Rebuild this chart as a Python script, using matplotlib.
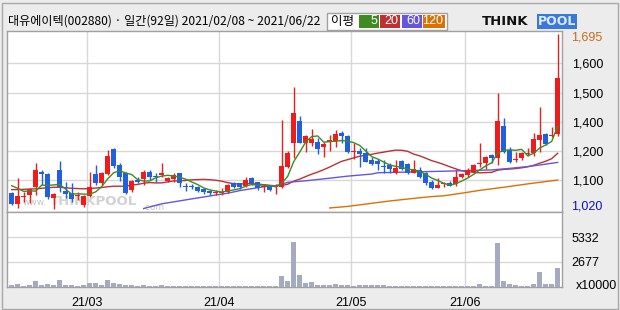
import numpy as np
import pandas as pd
import matplotlib
matplotlib.use("Agg")
import matplotlib.pyplot as plt
from matplotlib.patches import Rectangle

W, H = 620, 310

# ---------------- data ----------------
title_text = "대유에이텍(002880) · 일간(92일) 2021/02/08 ~ 2021/06/22"
start_date, end_date = "2021-02-08", "2021-06-22"
holidays = ["2021-02-11", "2021-02-12", "2021-03-01", "2021-05-05", "2021-05-19"]

opens = [1083, 1038, 1068, 1074, 1106, 1164, 1155, 1061, 1171, 1091,
         1081, 1072, 1035, 1070, 1155, 1122, 1157, 1252, 1190, 1158,
         1093, 1132, 1135, 1164, 1145, 1151, 1128, 1136, 1158, 1107,
         1109, 1106, 1096, 1091, 1081, 1083, 1087, 1119, 1119, 1110,
         1140, 1123, 1106, 1109, 1104, 1106, 1183, 1276, 1360, 1274,
         1276, 1280, 1258, 1278, 1284, 1315, 1302, 1240, 1244, 1238,
         1209, 1207, 1187, 1190, 1158, 1205, 1194, 1160, 1171, 1160,
         1125, 1102, 1115, 1119, 1117, 1143, 1151, 1164, 1192, 1197,
         1229, 1218, 1341, 1248, 1211, 1216, 1233, 1238, 1287, 1310,
         1301, 1310]
highs = [1087, 1139, 1087, 1100, 1197, 1171, 1158, 1082, 1205, 1125,
         1120, 1087, 1074, 1163, 1190, 1164, 1248, 1257, 1197, 1164,
         1132, 1145, 1171, 1171, 1160, 1197, 1145, 1158, 1160, 1119,
         1117, 1110, 1102, 1093, 1093, 1100, 1115, 1124, 1122, 1144,
         1145, 1126, 1117, 1113, 1117, 1364, 1244, 1493, 1379, 1306,
         1329, 1293, 1280, 1306, 1325, 1321, 1306, 1274, 1257, 1255,
         1222, 1212, 1209, 1197, 1209, 1209, 1197, 1209, 1183, 1164,
         1132, 1139, 1125, 1129, 1171, 1160, 1180, 1192, 1276, 1226,
         1233, 1469, 1370, 1261, 1241, 1241, 1255, 1315, 1413, 1315,
         1336, 1695]
lows = [1035, 1025, 1048, 1044, 1074, 1113, 1057, 1020, 1087, 1061,
        1048, 1055, 1026, 1068, 1113, 1113, 1151, 1177, 1129, 1078,
        1087, 1119, 1113, 1132, 1125, 1145, 1123, 1125, 1106, 1091,
        1096, 1087, 1078, 1074, 1074, 1074, 1083, 1101, 1098, 1105,
        1113, 1093, 1087, 1089, 1078, 1100, 1177, 1216, 1275, 1241,
        1263, 1233, 1222, 1245, 1261, 1276, 1235, 1212, 1183, 1200,
        1190, 1171, 1160, 1158, 1155, 1171, 1155, 1158, 1141, 1113,
        1096, 1100, 1106, 1107, 1110, 1140, 1145, 1161, 1181, 1173,
        1199, 1190, 1238, 1197, 1203, 1209, 1225, 1225, 1241, 1268,
        1297, 1302]
closes = [1039, 1070, 1070, 1096, 1171, 1155, 1065, 1078, 1106, 1078,
          1059, 1074, 1070, 1106, 1122, 1160, 1225, 1188, 1143, 1081,
          1129, 1125, 1164, 1143, 1143, 1160, 1141, 1151, 1119, 1105,
          1106, 1091, 1086, 1081, 1083, 1086, 1113, 1106, 1104, 1131,
          1120, 1100, 1108, 1093, 1106, 1186, 1238, 1392, 1276, 1302,
          1290, 1252, 1271, 1287, 1309, 1303, 1241, 1242, 1233, 1203,
          1194, 1194, 1184, 1175, 1177, 1175, 1158, 1173, 1145, 1119,
          1102, 1113, 1117, 1110, 1145, 1155, 1171, 1190, 1194, 1222,
          1216, 1361, 1241, 1203, 1213, 1235, 1235, 1290, 1306, 1271,
          1303, 1527]
# volume in units of 10,000 shares
volumes = [248, 320, 106, 212, 637, 212, 320, 212, 743, 212,
           212, 106, 212, 425, 425, 212, 743, 425, 320, 212,
           212, 106, 212, 106, 106, 212, 106, 100, 100, 106,
           100, 100, 106, 100, 100, 100, 100, 106, 100, 100,
           100, 100, 100, 100, 106, 1168, 637, 4815, 1274, 425,
           531, 212, 212, 212, 320, 212, 212, 106, 212, 212,
           212, 212, 212, 106, 100, 100, 100, 100, 100, 100,
           100, 100, 100, 100, 100, 100, 100, 100, 320, 106,
           106, 4708, 637, 320, 212, 106, 106, 320, 1593, 320,
           320, 2018]

ma5_head = [1110, 1100, 1088, 1090]
ma20_head = [1095, 1095, 1096, 1097, 1098, 1100, 1102, 1104, 1104, 1102,
             1100, 1099, 1098, 1099, 1101, 1103, 1106, 1108, 1108]
ma60_idx = [22, 25, 30, 34, 36, 38, 42, 44, 46, 49, 53, 56, 60, 61, 72, 80, 83, 86, 88, 91]
ma60_val = [1022, 1040, 1059, 1074, 1081, 1091, 1106, 1110, 1123, 1129,
            1139, 1147, 1155, 1160, 1166, 1171, 1177, 1184, 1190, 1200]
ma120_idx = [53, 56, 60, 63, 67, 70, 72, 75, 78, 82, 86, 91]
ma120_val = [1024, 1030, 1042, 1051, 1061, 1068, 1071, 1081, 1092, 1104, 1117, 1132]

price_hi, price_lo = 1695, 1020
vol_tick_vals = [2677, 5332]
vol_top = 7998

# ---------------- styling ----------------
BG = "#ECECEC"
GRID = "#D8D8D8"
FRAME = "#A0A0A0"
UP = "#F01C1C"
DOWN = "#1F5FE0"
C5, C20, C60, C120 = "#3C8C22", "#C03030", "#6655DD", "#DD7000"
VOLC = "#A3AAC2"
NUMFONT = ["Liberation Sans", "DejaVu Sans"]
KFONT = ["Noto Sans CJK KR", "DejaVu Sans"]
NUMSIZE = 9

dates = pd.bdate_range(start_date, end_date)
dates = dates[~dates.isin(pd.to_datetime(holidays))]
n = len(closes)
idx = np.arange(n)
o = np.array(opens, float); c = np.array(closes, float)
hi = np.array(highs, float); lo = np.array(lows, float)

cl = pd.Series(c)
ma5 = cl.rolling(5).mean().to_numpy()
ma5[:len(ma5_head)] = ma5_head
ma20 = cl.rolling(20).mean().to_numpy()
ma20[:len(ma20_head)] = ma20_head

fig = plt.figure(figsize=(W / 100, H / 100), dpi=100, facecolor=BG)

def fx(x):
    return x / W

def fy(y):
    return 1 - y / H

left_px, right_px = 7, 562
top_px, mid_px, bot_px = 31, 212, 287
axp = fig.add_axes([fx(left_px), fy(mid_px), (right_px - left_px) / W, (mid_px - top_px) / H])
axv = fig.add_axes([fx(left_px), fy(bot_px), (right_px - left_px) / W, (bot_px - mid_px) / H], sharex=axp)

# x scale: candle i at pixel 11.7 + 6 i
px_per = 6.0
x0 = (left_px - 11.7) / px_per
x1 = (right_px - 11.7) / px_per
axp.set_xlim(x0, x1)

# y scale: 1695 at y=34.3 px, 1020 at y=209 px
ppu = (209 - 34.3) / (price_hi - price_lo)
ytop = price_hi + (34.3 - top_px) / ppu
ybot = price_lo - (mid_px - 209) / ppu
axp.set_ylim(ybot, ytop)

# month boundaries
month_first = [i for i in range(1, n) if dates[i].month != dates[i - 1].month]
month_pos = [i - 0.5 for i in month_first]
month_lab = [dates[i].strftime("%y/%m") for i in month_first]

grid_vals = [price_lo + (price_hi - price_lo) * k / 6 for k in range(1, 6)]
grid_labs = [f"{int(round(v, -2)):,}" for v in grid_vals]

for ax in (axp, axv):
    ax.set_facecolor("white")
    for s in ax.spines.values():
        s.set_color(FRAME)
        s.set_linewidth(1)
    for m in month_pos:
        ax.axvline(m, color=GRID, lw=1, zorder=0)
    ax.tick_params(length=0)

for g in grid_vals:
    axp.axhline(g, color=GRID, lw=1, zorder=0)

# watermark (behind the candles)
axp.text(16 / 555, 0.03, "www.", transform=axp.transAxes, fontsize=6.5, family=["DejaVu Sans"],
         color="#C4C4C4", ha="left", va="bottom", zorder=1)
axp.text(43 / 555, 0.02, "THINKPOOL", transform=axp.transAxes, fontsize=9.5,
         family=["DejaVu Sans"], weight="bold", color="#D2D2D2", ha="left", va="bottom", zorder=1)
axp.text(135 / 555, 0.0, ".com", transform=axp.transAxes, fontsize=6.5, family=["DejaVu Sans"],
         color="#C4C4C4", ha="left", va="bottom", zorder=1)

# candles
up = c >= o
colors = np.where(up, UP, DOWN)
axp.vlines(idx, lo, hi, colors=colors, lw=1, zorder=3)
body_min = 1.0 / ppu
bottoms = np.minimum(o, c)
heights = np.maximum(np.abs(c - o), body_min)
axp.bar(idx, heights, bottom=bottoms, width=0.83, color=colors, edgecolor=colors,
        linewidth=0, zorder=4)

# moving averages
axp.plot(idx, ma20, color=C20, lw=1, zorder=2)
axp.plot(ma60_idx, ma60_val, color=C60, lw=1, zorder=2)
axp.plot(ma120_idx, ma120_val, color=C120, lw=1, zorder=2)
axp.plot(idx, ma5, color=C5, lw=1, zorder=5)

axp.yaxis.tick_right()
axp.set_yticks(grid_vals)
axp.set_yticklabels(grid_labs, fontsize=NUMSIZE, family=NUMFONT)
axp.tick_params(axis="y", pad=7)
axp.tick_params(axis="x", labelbottom=False)

fig.text(fx(571), fy(38), f"{price_hi:,}", color="#CC6A1A", fontsize=NUMSIZE, family=NUMFONT,
         ha="left", va="center")
fig.text(fx(571), fy(206.5), f"{price_lo:,}", color="#1010C0", fontsize=NUMSIZE, family=NUMFONT,
         ha="left", va="center")

# volume
axv.bar(idx, volumes, width=0.83, color=VOLC, zorder=3)
axv.set_ylim(0, vol_top)
for v in vol_tick_vals:
    axv.axhline(v, color=GRID, lw=1, zorder=0)
axv.yaxis.tick_right()
axv.set_yticks(vol_tick_vals)
axv.set_yticklabels([str(v) for v in vol_tick_vals], fontsize=NUMSIZE, family=NUMFONT)
axv.tick_params(axis="y", pad=7)
axv.set_xticks(month_pos)
axv.set_xticklabels(month_lab, fontsize=NUMSIZE, family=NUMFONT)
axv.tick_params(axis="x", pad=7)
fig.text(fx(576), fy(286), "x10000", fontsize=NUMSIZE, family=NUMFONT, ha="left", va="center")

# title
fig.text(fx(8), fy(21.5), title_text, fontsize=8.7, family=KFONT, ha="left", va="center")

# MA legend box
fig.add_artist(Rectangle((fx(327), fy(29.5)), 120 / W, 17 / H, transform=fig.transFigure,
                         facecolor="white", edgecolor="#A0A0A0", lw=1))
fig.text(fx(331), fy(21.3), "이평", fontsize=9, family=KFONT, ha="left", va="center")
for (xa, xb, col, lab) in [(358.5, 378.5, C5, "5"), (380, 400, C20, "20"),
                           (401.5, 421.5, C60, "60"), (423, 445, C120, "120")]:
    fig.add_artist(Rectangle((fx(xa), fy(28)), (xb - xa) / W, 13.3 / H,
                             transform=fig.transFigure, facecolor=col, edgecolor="none"))
    fig.text(fx(xb - 1.5), fy(21.5), lab, fontsize=NUMSIZE, family=NUMFONT, color="white",
             ha="right", va="center")

# THINKPOOL logo
fig.text(fx(482), fy(21.5), "THINK", fontsize=9.5, family=["DejaVu Sans"], weight="bold",
         color="#111111", ha="left", va="center")
fig.text(fx(538), fy(21.5), "POOL", fontsize=9, family=["DejaVu Sans"], weight="bold",
         color="#DDEBFF", ha="left", va="center",
         bbox=dict(boxstyle="square,pad=0.08", facecolor="#3A78DA", edgecolor="none"))

# outer frame
fig.add_artist(Rectangle((fx(1.5), fy(308.5)), 616.5 / W, 305.5 / H, transform=fig.transFigure,
                         facecolor="none", edgecolor="#A8A8A8", lw=1))

fig.savefig("out.png", dpi=100, facecolor=BG)
